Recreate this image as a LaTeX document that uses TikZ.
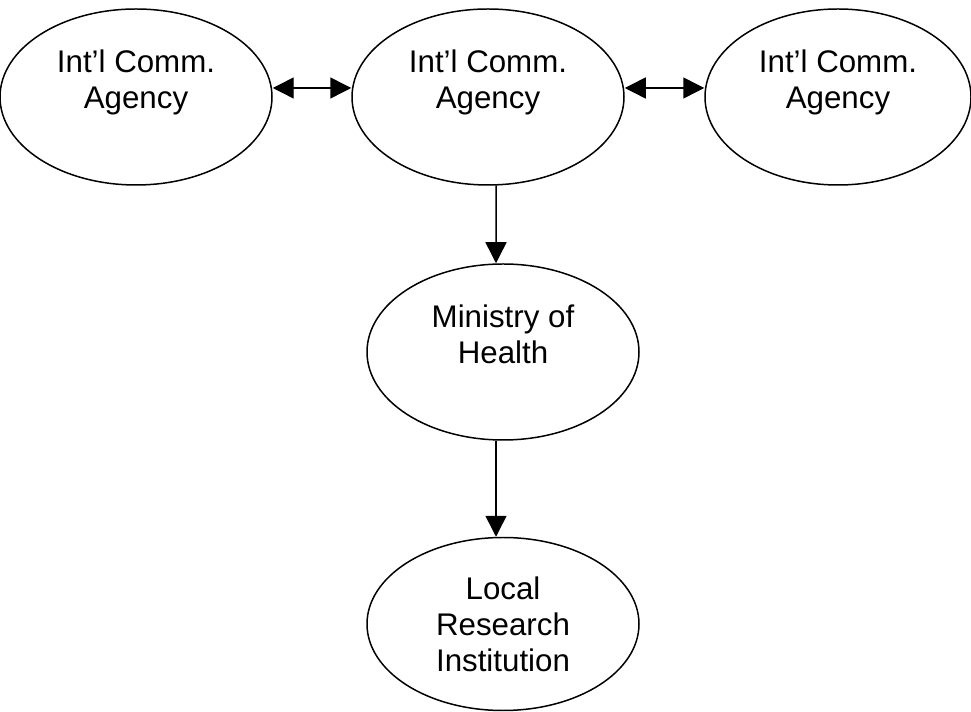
\documentclass[tikz,border=0pt]{standalone}
\usepackage{fontspec}
\setmainfont{Liberation Sans}
\usetikzlibrary{shapes.geometric,arrows.meta}

\begin{document}
\begin{tikzpicture}[
    agency/.style={draw, ellipse, line width=0.85pt, inner sep=0pt, align=center,
      minimum width=5.44cm, minimum height=3.52cm,
      font=\fontsize{17.8}{20.5}\selectfont},
    link/.style={line width=0.85pt, -{Triangle[length=0.42cm,width=0.42cm]}},
    both/.style={line width=0.85pt, {Triangle[length=0.42cm,width=0.42cm]}-{Triangle[length=0.42cm,width=0.42cm]}}]
  \useasboundingbox (0,0) rectangle (19.42,-14.24);

  \node[agency] (left) at (2.72,-1.94) {Int'l Comm.\\Agency\\\mbox{}};
  \node[agency] (mid) at (9.76,-1.94) {Int'l Comm.\\Agency\\\mbox{}};
  \node[agency, minimum width=5.32cm] (right) at (16.76,-1.94) {Int'l Comm.\\Agency\\\mbox{}};
  \node[agency] (moh) at (10.06,-7.04) {Ministry of\\Health\\\mbox{}};
  \node[agency, minimum height=3.46cm] (lri) at (10.06,-12.48) {Local\\Research\\Institution};

  \draw[both] ([yshift=0.18cm]left.east) -- ([yshift=0.18cm]mid.west);
  \draw[both] ([yshift=0.18cm]mid.east) -- ([yshift=0.18cm]right.west);
  \draw[link] ([xshift=0.16cm]mid.south) -- ([xshift=-0.14cm]moh.north);
  \draw[link] ([xshift=-0.14cm]moh.south) -- ([xshift=-0.14cm]lri.north);
\end{tikzpicture}
\end{document}
